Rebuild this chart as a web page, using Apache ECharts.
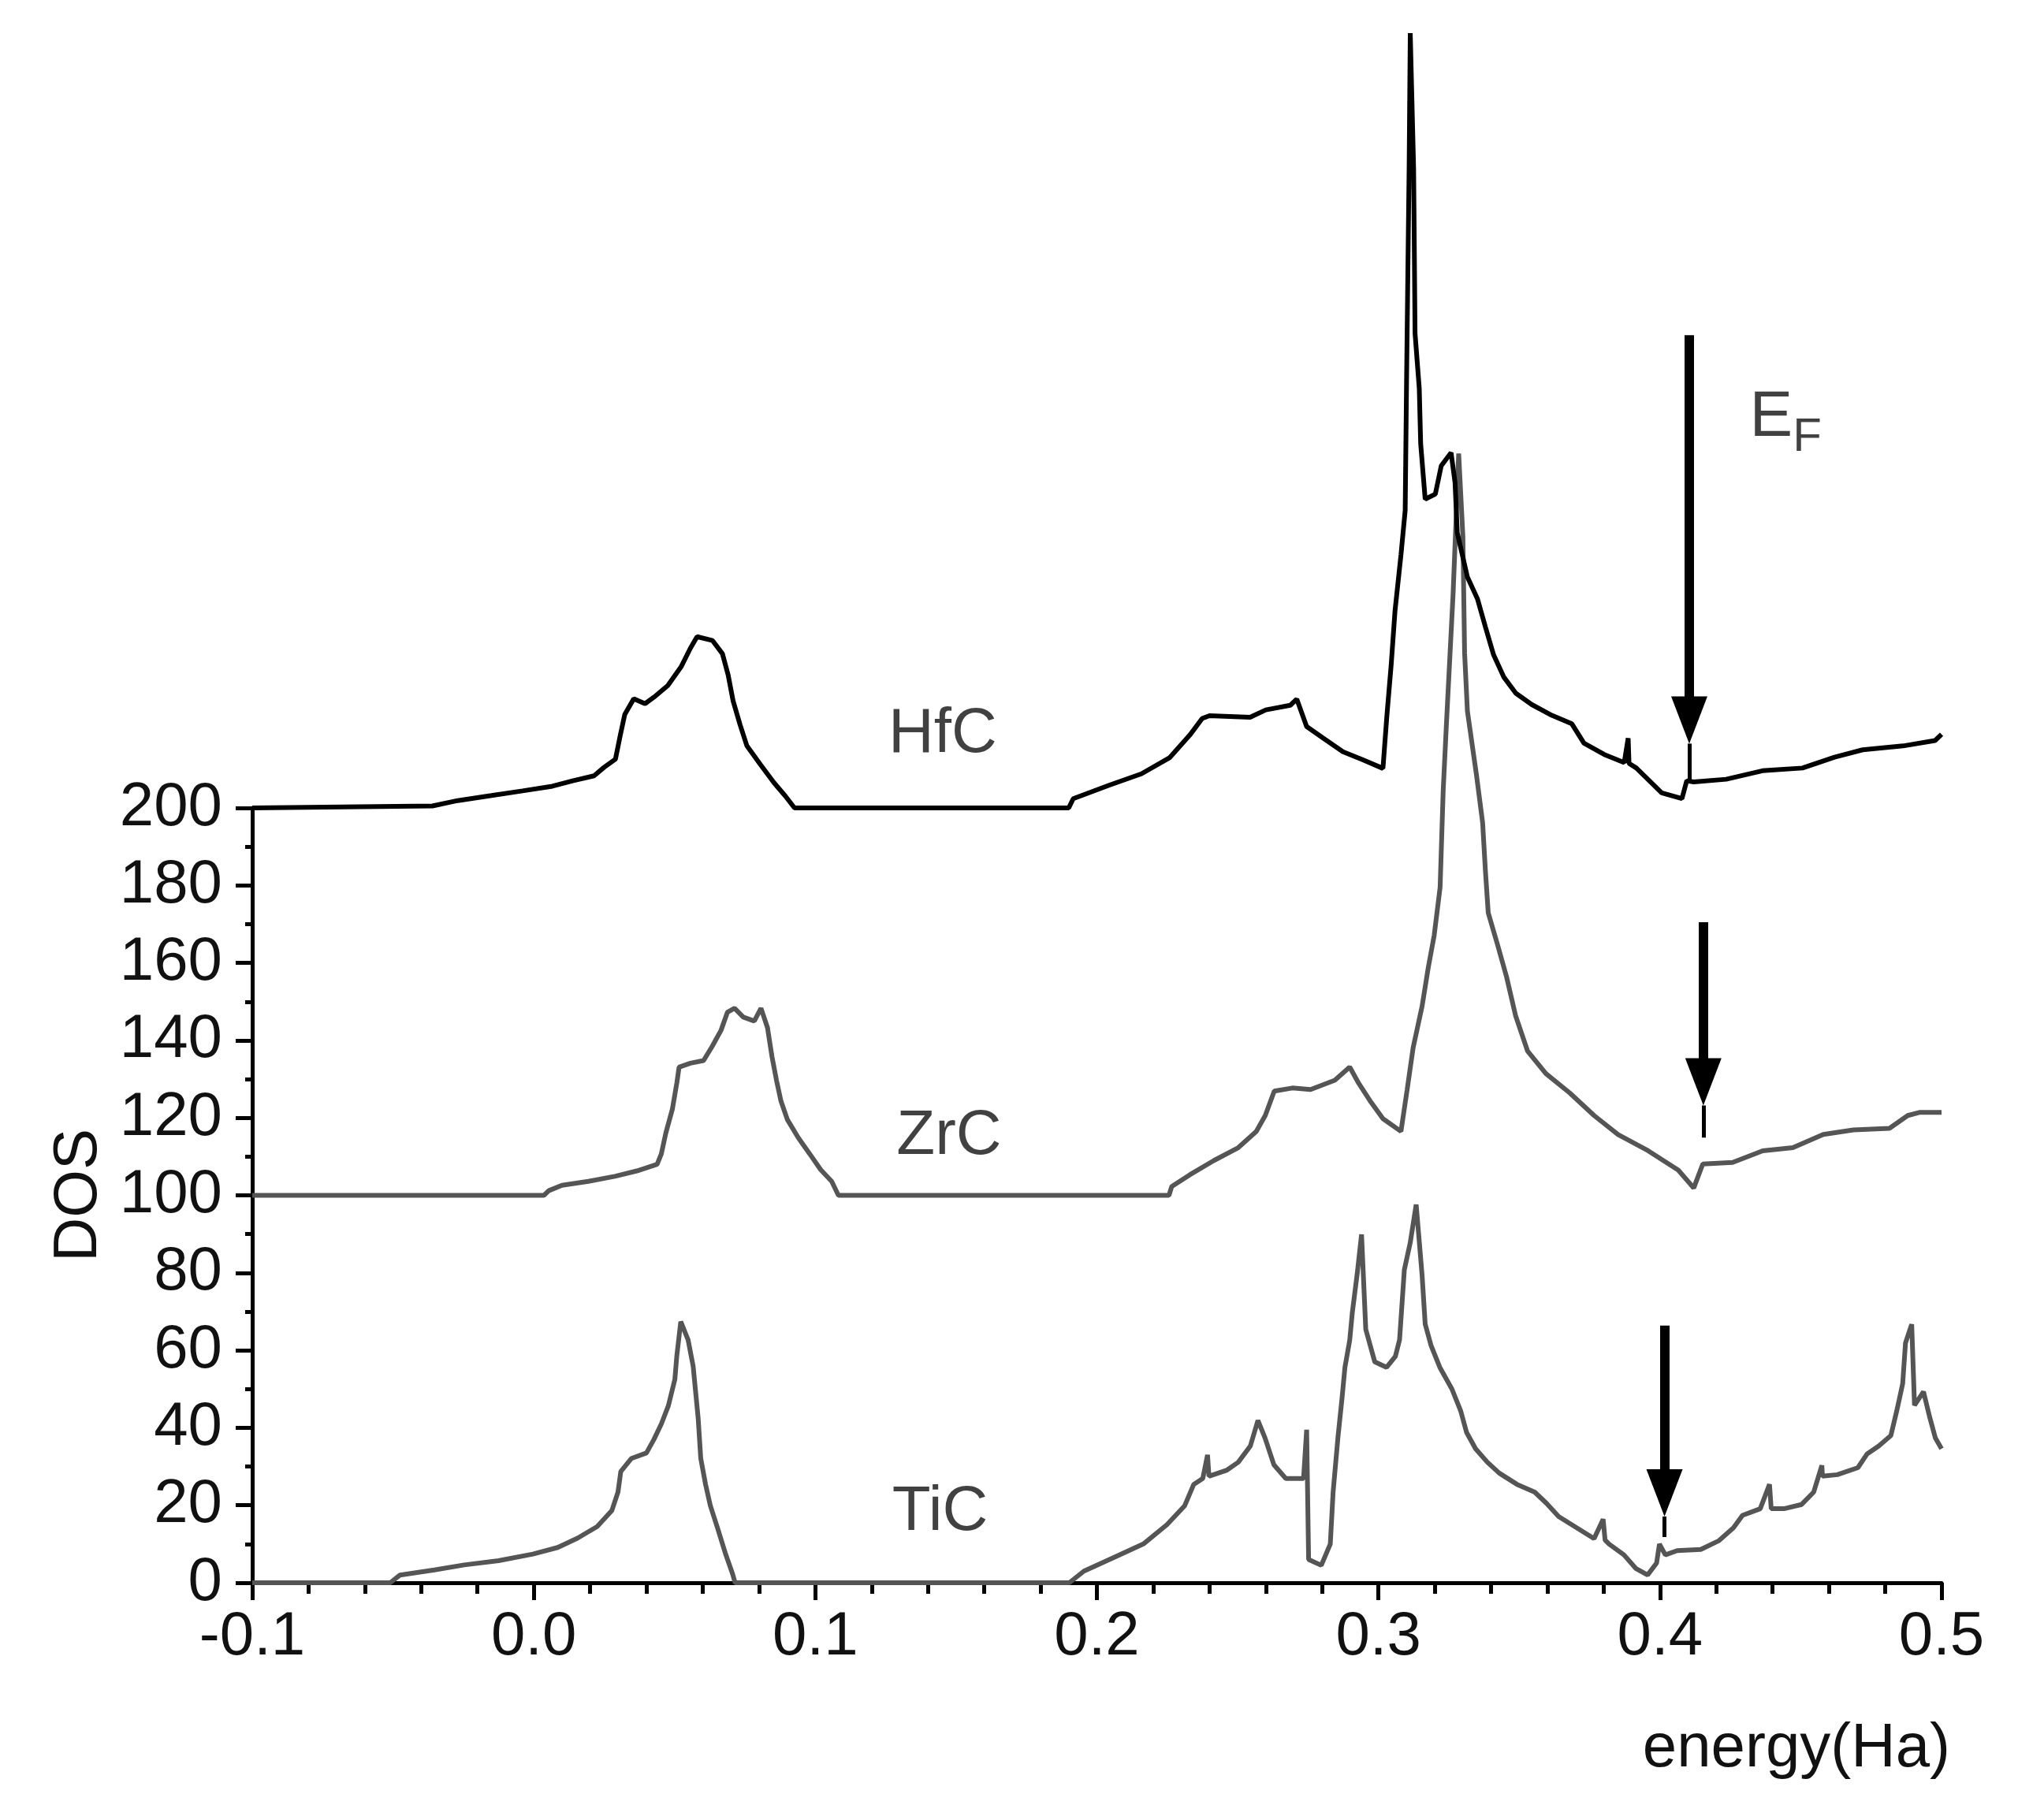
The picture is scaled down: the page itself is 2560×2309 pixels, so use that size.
<!DOCTYPE html>
<html>
<head>
<meta charset="utf-8">
<script src="https://cdn.jsdelivr.net/npm/echarts@6/dist/echarts.min.js"></script>
<style>
  html, body { margin: 0; padding: 0; background: #fff; }
  #main { width: 2560px; height: 2309px; }
</style>
</head>
<body>
<div id="main"></div>
<script>
// energies (Ha) and DOS values, one pair of arrays per carbide
var hfcEnergy = [-0.1, -0.036, -0.027, -0.015, -0.004, 0.0066, 0.0138, 0.0214, 0.025, 0.029, 0.0307, 0.0323, 0.0355, 0.0395, 0.0427, 0.0476, 0.0523, 0.0556, 0.058, 0.0635, 0.067, 0.069, 0.0708, 0.0733, 0.0757, 0.0805, 0.0853, 0.0893, 0.0926,
  0.190, 0.1916, 0.2045, 0.2158, 0.2259, 0.233, 0.2374, 0.240, 0.2544, 0.260, 0.2687, 0.271, 0.2745, 0.2802, 0.2874, 0.2945, 0.3016, 0.303, 0.3045, 0.3059, 0.308, 0.3095, 0.310, 0.3109, 0.3113, 0.3125, 0.313, 0.3145, 0.315, 0.3166, 0.3202, 0.3223, 0.3258, 0.3272, 0.328, 0.3316, 0.3352, 0.338, 0.3409, 0.3445, 0.3488, 0.3544, 0.3616, 0.3687, 0.373, 0.3802, 0.3873, 0.3887, 0.389, 0.3916, 0.4006, 0.4078, 0.4095, 0.412, 0.4235, 0.4364, 0.4506, 0.462, 0.472, 0.4863, 0.4977, 0.5];
var hfcDos = [200, 200.5, 201.9, 203.2, 204.4, 205.6, 207, 208.3, 210.5, 212.6, 218.7, 224.1, 228.2, 226.9, 228.6, 231.6, 236.4, 241.2, 244.2, 243.2, 239.8, 234.4, 227.6, 221.4, 216, 211.2, 206.5, 203.1, 200,
  200, 202.4, 205.9, 208.8, 213, 218.8, 223.1, 223.8, 223.4, 225.3, 226.5, 228.1, 221, 218.1, 214.5, 212.4, 210.2, 223.8, 236.7, 251, 265.3, 276.8, 311, 365.5, 400, 365, 322.5, 308.3, 294, 279.7, 281, 288.3, 291.7, 284, 271, 259.6, 253.9, 246.7, 239.5, 233.8, 229.6, 226.7, 223.9, 221.7, 216.7, 213.8, 211.7, 218, 211.5, 210.3, 203.9, 202.4, 207, 206.7, 207.4, 209.6, 210.3, 213.1, 215, 216, 217.4, 219];

var zrcEnergy = [-0.1, 0.0036, 0.0053, 0.010, 0.0194, 0.0288, 0.0366, 0.0438, 0.0453, 0.0469, 0.0492, 0.0508, 0.0516, 0.0556, 0.0603, 0.0634, 0.0665, 0.0688, 0.0713, 0.0744, 0.0783, 0.0807, 0.083, 0.0846, 0.0862, 0.0878, 0.0901, 0.094, 0.098, 0.1019, 0.1058, 0.1082,
  0.2256, 0.2266, 0.233, 0.2416, 0.2502, 0.2566, 0.2598, 0.263, 0.2694, 0.2759, 0.2845, 0.2898, 0.293, 0.2974, 0.3016, 0.308, 0.3102, 0.3123, 0.3155, 0.3177, 0.3198, 0.3219, 0.323, 0.3241, 0.3265, 0.3285, 0.330, 0.3306, 0.3316, 0.3348, 0.337, 0.338, 0.339, 0.3423, 0.3455, 0.3487, 0.353, 0.3595, 0.368, 0.3766, 0.3851, 0.3958, 0.4065, 0.412, 0.4152, 0.4258, 0.4365, 0.4472, 0.458, 0.4687, 0.4815, 0.488, 0.4921, 0.5];
var zrcDos = [100, 100, 101.2, 102.6, 103.6, 104.9, 106.3, 108, 110.7, 116.1, 122.2, 129, 133.1, 134.1, 134.8, 138.5, 142.6, 147.3, 148.3, 146, 145, 148.3, 143.3, 135.8, 129.7, 124.3, 119.5, 114.8, 110.7, 106.6, 103.6, 100,
  100, 102.3, 105.3, 109, 112.3, 116.5, 120.6, 126.9, 127.7, 127.3, 129.7, 133.1, 128.9, 124, 119.8, 116.5, 127.3, 138, 148.8, 158.8, 167.1, 179.5, 204.5, 221, 255, 291.5, 270, 240, 225, 208.6, 196.2, 183.7, 172.9, 164.7, 156.4, 146.4, 137.2, 131.4, 126.4, 120.6, 115.7, 111.5, 106.5, 101.9, 108.1, 108.5, 111.5, 112.3, 115.7, 116.9, 117.3, 120.6, 121.4, 121.4];

var ticEnergy = [-0.1, -0.051, -0.0475, -0.0353, -0.0247, -0.0125, -0.0003, 0.0085, 0.0155, 0.0225, 0.0277, 0.0299, 0.0309, 0.0347, 0.04, 0.0426, 0.0453, 0.0478, 0.0501, 0.0508, 0.0522, 0.0548, 0.0566, 0.0584, 0.0593, 0.061, 0.0627, 0.0654, 0.068, 0.0706, 0.0715,
  0.1902, 0.1954, 0.206, 0.2165, 0.2249, 0.2312, 0.2344, 0.2376, 0.2393, 0.2398, 0.246, 0.2502, 0.2545, 0.2572, 0.2597, 0.2629, 0.2671, 0.2734, 0.2745, 0.2752, 0.2797, 0.2829, 0.2839, 0.2856, 0.2871, 0.2881, 0.2898, 0.2907, 0.2924, 0.294, 0.2955, 0.2987, 0.3029, 0.306, 0.3075, 0.3092, 0.3113, 0.3134, 0.3155, 0.3166, 0.3187, 0.3218, 0.3261, 0.3292, 0.3313, 0.3345, 0.3387, 0.3429, 0.3492, 0.3555, 0.3597, 0.364, 0.3704, 0.3766, 0.3798, 0.3805, 0.3819, 0.3872, 0.3914, 0.3956, 0.3988, 0.3998, 0.4019, 0.4061, 0.4145, 0.4208, 0.4261, 0.4293, 0.4356, 0.4389, 0.4395, 0.444, 0.4503, 0.4546, 0.4575, 0.4577, 0.463, 0.4703, 0.4735, 0.4777, 0.482, 0.4841, 0.4862, 0.4872, 0.4894, 0.4904, 0.4936, 0.4957, 0.4978, 0.5];
var ticDos = [0, 0, 2, 3.3, 4.6, 5.7, 7.4, 9.1, 11.5, 14.5, 18.6, 23.4, 28.7, 32.1, 33.5, 36.9, 41, 45.7, 52.5, 58.6, 67.4, 62.7, 55.9, 42.3, 32.1, 25.4, 19.9, 13.8, 7.7, 2.3, 0,
  0, 3, 6.5, 10, 15, 19.9, 25.4, 26.9, 33, 27.5, 29, 31.1, 35.3, 41.9, 37.4, 30.4, 26.9, 26.9, 39.5, 6, 4.5, 10, 23.4, 37.4, 47.9, 55.6, 62.6, 69.6, 79.4, 89.9, 65.4, 57, 55.6, 58.4, 62.7, 80.8, 87.8, 97.6, 79.4, 66.8, 61.2, 55.6, 50, 44.4, 38.8, 34.6, 31.1, 28.3, 25.4, 23.4, 20.5, 17.1, 14.2, 11.4, 16.4, 11, 10, 7.2, 3.7, 2, 5.1, 10, 7.2, 8.3, 8.6, 10.8, 14.2, 17.4, 19.1, 25.4, 19.1, 19.1, 20.2, 23.4, 30.3, 27.5, 27.9, 29.7, 33.2, 35.3, 38, 44.4, 51.4, 61.9, 66.7, 45.8, 49.3, 43, 37.4, 34.6];

// Fermi level arrows: position, shaft top, head tip, end of the thin stem below the head
var fermiEnergy = [0.4104, 0.4154, 0.4016];
var arrowTop = [322, 170.5, 66.4];
var arrowTip = [216.6, 123.2, 17.1];
var arrowStemEnd = [207.3, 114.9, 11.8];

// curve labels
var curveNames = ['HfC', 'ZrC', 'TiC'];
var nameEnergy = [0.1452, 0.1475, 0.1443];
var nameDos = [218.9, 115.1, 18.2];

var xTicks = { min: -0.1, max: 0.5, interval: 0.1 };
var FONT = 'Liberation Sans, Arial, sans-serif';
var HEAD_HALF = 6.1; // half of the arrow head height, in DOS units

function pairs(xs, ys) {
  return xs.map(function (x, i) { return [x, ys[i]]; });
}

var arrowLines = [];
fermiEnergy.forEach(function (x, i) {
  arrowLines.push([
    { coord: [x, arrowTop[i]], symbol: 'none', lineStyle: { width: 12 } },
    { coord: [x, arrowTip[i] + HEAD_HALF], symbol: 'triangle', symbolSize: [46, 60] }
  ]);
  arrowLines.push([
    { coord: [x, arrowTip[i]], symbol: 'none', lineStyle: { width: 5 } },
    { coord: [x, arrowStemEnd[i]], symbol: 'none' }
  ]);
});

var chartDom = document.getElementById('main');
var myChart = echarts.init(chartDom);
var option;

var lineStyleFor = function (color) {
  return { color: color, width: 6 };
};

option = {
  backgroundColor: '#fff',
  animation: false,
  grid: [
    { left: 320, right: 97, top: 42, bottom: 301 },
    { left: 320, right: 97, top: 1025, bottom: 301 }
  ],
  graphic: [
    {
      type: 'text',
      right: 86,
      top: 2180,
      style: { text: 'energy(Ha)', font: '78px ' + FONT, fill: '#111' }
    }
  ],
  xAxis: [
    {
      gridIndex: 0,
      type: 'value',
      min: xTicks.min,
      max: xTicks.max,
      interval: xTicks.interval,
      axisLine: { onZero: false, lineStyle: { color: '#000', width: 5 } },
      axisTick: { length: 22, lineStyle: { color: '#000', width: 5 } },
      minorTick: { show: true, splitNumber: 5, length: 14, lineStyle: { color: '#000', width: 5 } },
      splitLine: { show: false },
      axisLabel: {
        margin: 30,
        fontSize: 78,
        fontFamily: FONT,
        color: '#111',
        formatter: function (v) { return v.toFixed(1); }
      }
    },
    {
      gridIndex: 1,
      type: 'value',
      min: xTicks.min,
      max: xTicks.max,
      show: false
    }
  ],
  yAxis: [
    {
      gridIndex: 0,
      type: 'value',
      min: 0,
      max: 400,
      show: false
    },
    {
      gridIndex: 1,
      type: 'value',
      min: 0,
      max: 200,
      interval: 20,
      name: 'DOS',
      nameLocation: 'middle',
      nameGap: 181,
      nameTextStyle: { fontSize: 78, fontFamily: FONT, color: '#111' },
      axisLine: { show: true, onZero: false, lineStyle: { color: '#000', width: 5 } },
      axisTick: { show: true, length: 21, lineStyle: { color: '#000', width: 5 } },
      minorTick: { show: true, splitNumber: 2, length: 9, lineStyle: { color: '#000', width: 5 } },
      splitLine: { show: false },
      axisLabel: { margin: 38, fontSize: 78, fontFamily: FONT, color: '#111' }
    }
  ],
  series: [
    {
      name: 'TiC',
      type: 'line',
      xAxisIndex: 0,
      yAxisIndex: 0,
      showSymbol: false,
      data: pairs(ticEnergy, ticDos),
      lineStyle: lineStyleFor('#555')
    },
    {
      name: 'ZrC',
      type: 'line',
      xAxisIndex: 0,
      yAxisIndex: 0,
      showSymbol: false,
      data: pairs(zrcEnergy, zrcDos),
      lineStyle: lineStyleFor('#555')
    },
    {
      name: 'HfC',
      type: 'line',
      xAxisIndex: 0,
      yAxisIndex: 0,
      showSymbol: false,
      data: pairs(hfcEnergy, hfcDos),
      lineStyle: lineStyleFor('#000'),
      markLine: {
        silent: true,
        animation: false,
        label: { show: false },
        lineStyle: { color: '#000', type: 'solid' },
        itemStyle: { color: '#000' },
        data: arrowLines
      }
    },
    {
      name: 'labels',
      type: 'scatter',
      xAxisIndex: 0,
      yAxisIndex: 0,
      symbolSize: 0,
      silent: true,
      data: curveNames.map(function (n, i) {
        return { name: n, value: [nameEnergy[i], nameDos[i]] };
      }).concat([{ name: 'EF', value: [0.4446, 300.5] }]),
      label: {
        show: true,
        position: 'inside',
        fontSize: 80,
        fontFamily: FONT,
        color: '#111',
        formatter: function (p) {
          return p.name === 'EF' ? '{e|E}{f|F}' : p.name;
        },
        rich: {
          e: { fontSize: 82, lineHeight: 84, verticalAlign: 'top', fontFamily: FONT, color: '#111' },
          f: { fontSize: 60, lineHeight: 56, padding: [36, 0, 0, 0], verticalAlign: 'top', fontFamily: FONT, color: '#111' }
        }
      }
    }
  ]
};

option && myChart.setOption(option);
</script>
</body>
</html>
